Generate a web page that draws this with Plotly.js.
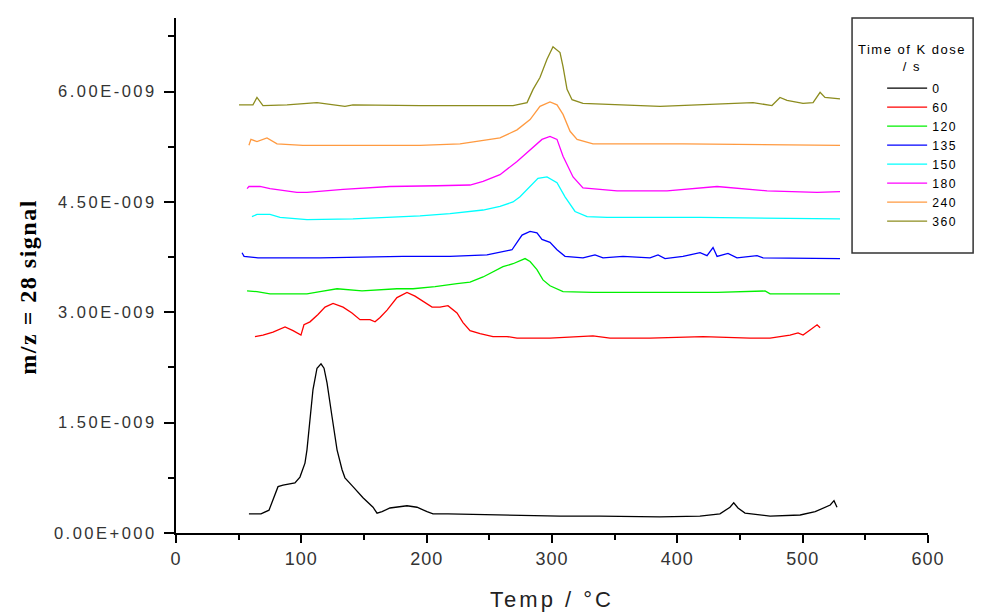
<!DOCTYPE html>
<html>
<head>
<meta charset="utf-8">
<script src="https://cdn.plot.ly/plotly-3.0.1.min.js"></script>
<style>
  html, body { margin: 0; padding: 0; background: #fff; }
  #chart { width: 985px; height: 612px; }
  .ytick text { letter-spacing: 2.5px; }
  .xtick text { letter-spacing: 1px; }
  .g-xtitle text { letter-spacing: 3px; }
  .legendtext, .annotation-text { letter-spacing: 1.5px; }
  .annotation.ytitle-ann .annotation-text { letter-spacing: 0.5px; }
</style>
</head>
<body>
<div id="chart"></div>
<script>
// Temperature (°C) and m/z = 28 signal (in units of 1E-009) for each K dose time
const temp_0 = [58.2,67.8,74.2,78.2,81.4,85.4,94.9,98.9,102.9,104.5,106.9,109.3,112.5,115.7,118.1,120.5,124.5,128.5,132.5,134.8,141.2,149.2,157.2,160.4,164.4,170.7,184.3,192.3,200.3,205.1,217.0,258.5,306.4,338,386,418,434,442,445,448.4,454,474,498,510,522,525,527.4];
const sig_0 = [0.26,0.26,0.31,0.49,0.63,0.65,0.68,0.76,0.95,1.13,1.58,1.95,2.24,2.30,2.24,2.04,1.58,1.13,0.86,0.75,0.63,0.48,0.35,0.27,0.29,0.34,0.37,0.35,0.29,0.26,0.26,0.245,0.23,0.23,0.22,0.23,0.26,0.35,0.41,0.34,0.27,0.23,0.245,0.29,0.38,0.44,0.35];

const temp_60 = [63.0,69.4,77.4,87.0,93.4,99.7,102.1,106.9,113.3,118.9,125.3,133.3,140.4,146.8,154.8,158.8,162.8,168.4,176.3,184.3,190.7,198.7,204.3,210.6,217.0,224.2,229.0,234.6,242.6,252.9,264.1,272.1,298.4,332.7,346.3,378.2,420.5,458.0,474.0,481.9,489.9,496.3,500.3,505.9,511.5,513.9];
const sig_60 = [2.67,2.69,2.73,2.80,2.75,2.69,2.83,2.87,2.97,3.07,3.12,3.07,2.99,2.90,2.90,2.87,2.93,3.03,3.20,3.27,3.22,3.13,3.07,3.07,3.09,2.99,2.86,2.75,2.71,2.67,2.67,2.65,2.65,2.68,2.65,2.65,2.67,2.65,2.65,2.67,2.69,2.72,2.69,2.76,2.83,2.79];

const temp_120 = [56.7,64.6,75.0,104.5,114.9,128.5,148.4,176.3,189.1,206.7,224.2,234.6,245.0,252.9,260.9,268.9,278.5,282.5,288.0,292.8,298.4,308.8,332.7,378.2,431.7,470.0,474.0,529.8];
const sig_120 = [3.29,3.28,3.25,3.25,3.28,3.32,3.29,3.32,3.32,3.35,3.39,3.41,3.48,3.55,3.62,3.66,3.73,3.69,3.58,3.44,3.36,3.28,3.27,3.27,3.27,3.29,3.25,3.25];

const temp_135 = [52.7,54.3,65.4,114.9,181.1,218.6,248.1,258.5,268.1,272.1,276.1,282.5,288.0,292.0,298.4,304.0,310.4,324.7,334.3,340.7,356.7,378.2,384.6,390.2,404.5,418.1,423.7,428.5,431.7,440.4,447.6,463.6,468.4,529.8];
const sig_135 = [3.81,3.76,3.74,3.74,3.76,3.76,3.78,3.82,3.85,3.95,4.05,4.10,4.08,3.99,3.95,3.85,3.76,3.74,3.78,3.74,3.76,3.74,3.78,3.73,3.76,3.81,3.77,3.88,3.76,3.80,3.74,3.77,3.74,3.73];

const temp_150 = [60.6,64.6,75.0,83.0,104.5,141.2,168.4,194.7,218.6,245.0,258.5,268.9,274.5,282.5,288.8,296.0,304.0,310.4,318.4,328.0,343.9,418.1,529.8];
const sig_150 = [4.30,4.33,4.33,4.29,4.26,4.27,4.29,4.31,4.34,4.39,4.44,4.50,4.57,4.71,4.82,4.84,4.76,4.57,4.37,4.30,4.29,4.29,4.27];

const temp_180 = [56.7,58.2,67.0,75.0,96.5,104.5,133.3,170.7,208.3,234.6,245.0,258.5,272.1,282.5,292.0,298.4,304.0,308.8,316.8,324.7,351.9,391.8,431.7,471.6,511.5,529.8];
const sig_180 = [4.68,4.71,4.71,4.68,4.63,4.63,4.67,4.71,4.72,4.73,4.78,4.87,5.05,5.21,5.35,5.39,5.35,5.12,4.84,4.69,4.65,4.65,4.71,4.65,4.63,4.64];

const temp_240 = [58.2,59.8,64.6,72.6,80.6,101.3,194.7,226.6,234.6,258.5,272.1,282.5,290.4,298.4,304.0,308.8,314.4,320.0,332.7,404.5,529.8];
const sig_240 = [5.27,5.35,5.32,5.37,5.29,5.27,5.27,5.29,5.31,5.37,5.48,5.62,5.80,5.86,5.82,5.69,5.46,5.35,5.29,5.29,5.27];

const temp_360 = [50.3,61.4,64.6,69.4,88.6,112.5,134.8,141.2,194.7,268.9,280.1,284.9,290.4,296.0,300.8,306.4,308.8,312.0,316.0,324.7,386.2,460.4,475.5,481.9,487.5,500.3,508.3,513.9,517.8,529.8];
const sig_360 = [5.82,5.82,5.92,5.81,5.82,5.85,5.80,5.82,5.81,5.81,5.85,6.03,6.19,6.44,6.61,6.53,6.34,6.03,5.89,5.84,5.80,5.85,5.81,5.92,5.88,5.84,5.85,5.99,5.92,5.90];

const doseLabels = ["0","60","120","135","150","180","240","360"];
const seriesColors = ["#000000","#ff0000","#00f000","#0000ff","#00ffff","#ff00ff","#ff9a40","#8c8c1e"];
const temps = [temp_0,temp_60,temp_120,temp_135,temp_150,temp_180,temp_240,temp_360];
const sigs = [sig_0,sig_60,sig_120,sig_135,sig_150,sig_180,sig_240,sig_360];

const yTickVals = [0, 1.5, 3, 4.5, 6];
const yTickText = ["0.00E+000","1.50E-009","3.00E-009","4.50E-009","6.00E-009"];
const yMinorVals = [0.75, 2.25, 3.75, 5.25, 6.75];

const traces = doseLabels.map((lab, i) => ({
  type: 'scatter', mode: 'lines',
  x: temps[i], y: sigs[i], name: lab,
  line: { color: seriesColors[i], width: 1.3 }
}));

const layout = {
  width: 985, height: 612,
  margin: { l: 176, r: 57, t: 18, b: 79 },
  paper_bgcolor: '#ffffff', plot_bgcolor: '#ffffff',
  showlegend: true,
  font: { family: 'Liberation Sans, Arial, sans-serif', color: '#000' },
  xaxis: {
    range: [0, 600], tickmode: 'linear', tick0: 0, dtick: 100,
    ticks: 'outside', ticklen: 8, tickwidth: 2, tickcolor: '#000',
    showline: true, linewidth: 2, linecolor: '#000', showgrid: false, zeroline: false,
    tickfont: { size: 18, color: '#333' },
    minor: { dtick: 50, ticks: 'outside', ticklen: 5, tickwidth: 2, tickcolor: '#000', showgrid: false },
    title: { text: 'Temp / °C', font: { size: 22, color: '#222' }, standoff: 24 }
  },
  yaxis: {
    range: [0, 7], tickmode: 'array', tickvals: yTickVals, ticktext: yTickText,
    ticks: 'outside', ticklen: 10, tickwidth: 2, tickcolor: '#000',
    showline: true, linewidth: 2, linecolor: '#000', showgrid: false, zeroline: false,
    tickfont: { size: 16.5, color: '#333' }, ticklabelstandoff: 4,
    minor: { tickmode: 'array', tickvals: yMinorVals, ticks: 'outside', ticklen: 6, tickwidth: 2, tickcolor: '#000', showgrid: false }
  },
  legend: {
    x: 0.939, y: 0.892, xanchor: 'left', yanchor: 'top',
    bgcolor: 'rgba(0,0,0,0)', borderwidth: 0,
    font: { size: 12.2, color: '#000' }, itemwidth: 40
  },
  shapes: [{
    type: 'rect', xref: 'paper', yref: 'paper',
    x0: 0.899, x1: 1.06, y0: 0.5437, y1: 1.0,
    line: { color: '#333', width: 1.5 }, fillcolor: 'rgba(0,0,0,0)'
  }],
  annotations: [{
    xref: 'paper', yref: 'paper', x: 0.979, y: 0.922,
    xanchor: 'center', yanchor: 'middle', showarrow: false,
    text: 'Time of K dose<br>/ s', font: { size: 13, color: '#000' }
  }, {
    xref: 'paper', yref: 'paper', x: -0.197, y: 0.478,
    xanchor: 'center', yanchor: 'middle', showarrow: false, textangle: -90,
    text: '<b>m/z = 28 signal</b>',
    font: { size: 24, family: 'Liberation Serif, Times New Roman, serif', color: '#000' }
  }]
};

Plotly.newPlot('chart', traces, layout, { staticPlot: true, displayModeBar: false });
</script>
</body>
</html>
